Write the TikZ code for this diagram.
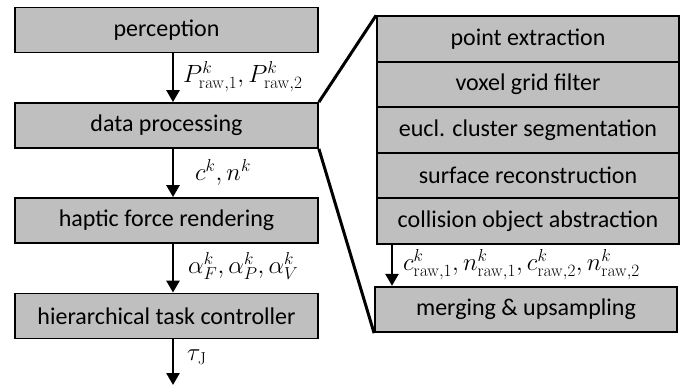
\documentclass[tikz,border=0pt]{standalone}
\usepackage[no-math]{fontspec}
\setmainfont{Carlito}
\usetikzlibrary{arrows.meta}
\definecolor{boxgray}{HTML}{BFBFBF}

\tikzset{
  block/.style={draw=black, line width=1.8pt, fill=boxgray, minimum width=303pt,
    minimum height=45pt, inner sep=0pt, font=\fontsize{24}{28}\selectfont},
  stage/.style={draw=black, line width=1.8pt, fill=boxgray, minimum width=302pt,
    minimum height=45.5pt, inner sep=0pt, font=\fontsize{24}{28}\selectfont},
  flow/.style={line width=2.6pt, -{Triangle[length=12pt, width=13pt]}},
  zoomline/.style={line width=3pt},
  lbl/.style={anchor=west, inner sep=0pt, font=\fontsize{25.5}{30}\selectfont}
}

\begin{document}
\begin{tikzpicture}[x=1pt, y=-1pt]
\useasboundingbox (0,0) rectangle (680,387);

% main pipeline
\node[block] (perc) at (166.5, 30)    {perception};
\node[block] (proc) at (166.5, 125.5) {data processing};
\node[block] (hapt) at (166.5, 220.5) {haptic force rendering};
\node[block] (htc)  at (166.5, 316)   {hierarchical task controller};
\coordinate (out) at (173, 385);

\draw[flow] (perc.south -| out) -- (proc.north -| out);
\draw[flow] (proc.south -| out) -- (hapt.north -| out);
\draw[flow] (hapt.south -| out) -- (htc.north -| out);
\draw[flow] (htc.south -| out) -- (out);

\node[lbl] (lp) at (183, 77) {$P^k_{\mathrm{raw},1}, P^k_{\mathrm{raw},2}$};
\node[lbl] (lc) at (195, 172) {$c^k, n^k$};
\node[lbl] (la) at (188, 266) {$\alpha^k_F, \alpha^k_P, \alpha^k_V$};
\node[lbl] (lt) at (187, 357) {$\tau_{\mathrm{J}}$};

% detailed data processing stages
\node[stage] (s1) at (528, 39)   {point extraction};
\node[stage] (s2) at (528, 84.5) {voxel grid filter};
\node[stage] (s3) at (528, 130)  {eucl. cluster segmentation};
\node[stage] (s4) at (528, 175.5){surface reconstruction};
\node[stage] (s5) at (528, 221)  {collision object abstraction};
\node[stage] (mu) at (526, 309.5){merging \& upsampling};

\coordinate (ar) at (392, 0);
\draw[flow] (s5.south -| ar) -- (mu.north -| ar);
\node[lbl] (lr) at (403, 265) {$c^k_{\mathrm{raw},1}, n^k_{\mathrm{raw},1}, c^k_{\mathrm{raw},2}, n^k_{\mathrm{raw},2}$};

% zoom lines
\draw[zoomline] (proc.north east) -- (s1.north west);
\draw[zoomline] (proc.south east) -- (mu.south west);
\end{tikzpicture}
\end{document}
